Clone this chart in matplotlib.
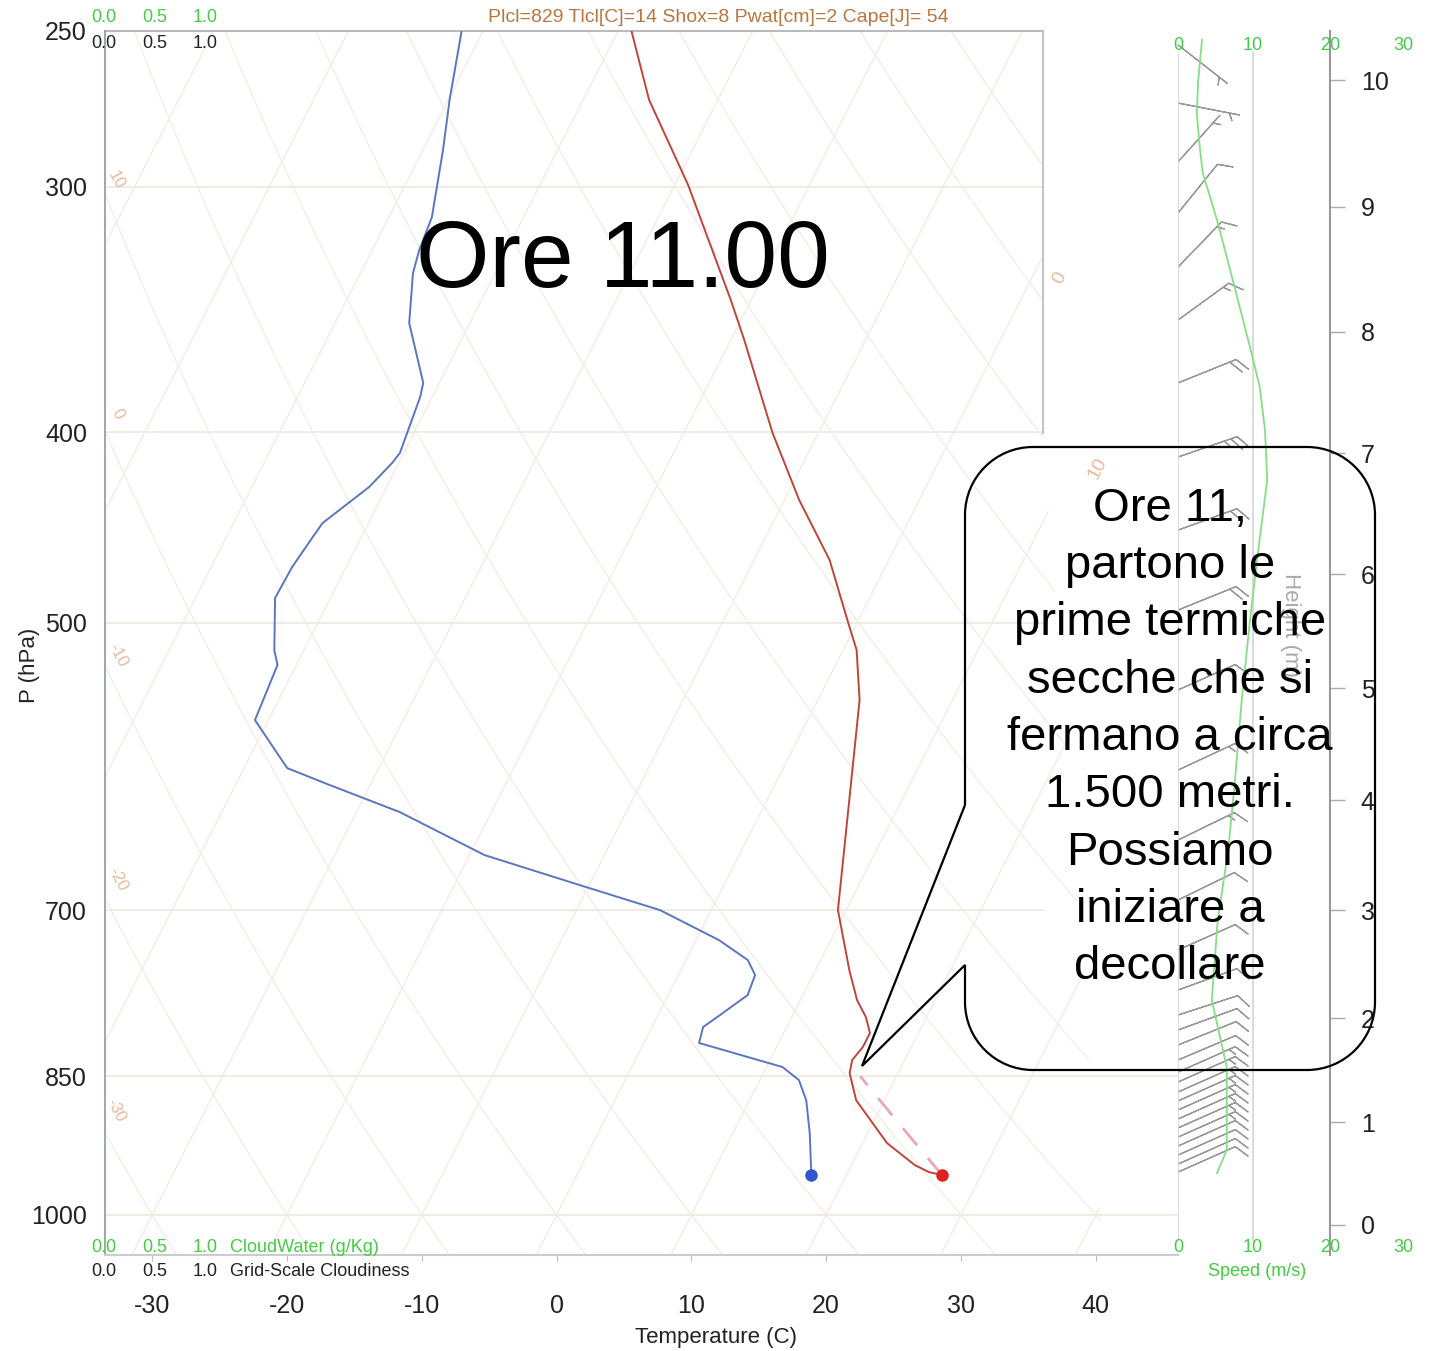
import numpy as np
import matplotlib
matplotlib.use("Agg")
import matplotlib.pyplot as plt
from matplotlib.path import Path
from matplotlib.patches import PathPatch, Polygon

plt.rcParams['font.family'] = ['Liberation Sans', 'DejaVu Sans']

W, H = 1431, 1351
SKEW = 32.14  # degC of skew per ln(1000/p)

# sounding (hPa, degC)
pres_t = [250.0, 271.0, 299.4, 342.6, 359.0, 400.3, 433.0, 464.4, 499.4, 516.1,
          547.2, 580.2, 615.2, 652.3, 699.8, 750.7, 777.5, 793.2, 808.1, 821.5,
          834.1, 846.9, 874.2, 919.2, 943.3, 951.0, 954.4]
temp = [-39.0, -35.1, -29.0, -21.5, -19.0, -13.4, -8.9, -4.4, -0.7, 1.0,
        3.1, 4.6, 6.1, 7.6, 9.4, 12.5, 14.2, 15.5, 16.4, 16.4,
        16.1, 16.4, 17.9, 21.8, 24.7, 26.0, 27.1]

pres_td = [250.0, 271.0, 287.4, 310.9, 323.1, 331.9, 351.9, 377.5, 383.8, 409.7,
           414.6, 426.4, 444.8, 452.1, 468.3, 485.6, 516.1, 525.2, 560.2, 592.6,
           604.5, 623.9, 656.1, 679.6, 699.8, 724.8, 742.0, 755.1, 773.0, 791.3,
           802.5, 817.6, 841.0, 853.9, 874.2, 908.6, 954.4]
dewp = [-51.6, -49.9, -48.5, -46.8, -46.5, -46.1, -44.5, -41.2, -40.9, -40.3,
        -40.5, -41.3, -43.4, -43.6, -44.0, -44.1, -42.2, -41.4, -41.0, -36.8,
        -33.0, -26.8, -18.9, -10.7, -3.8, 1.7, 4.6, 5.7, 5.9, 4.6,
        3.8, 4.1, 11.2, 12.9, 14.2, 15.7, 17.4]

parcel_p = [954.4, 900.0, 850.0]
parcel_t = [27.1, 22.1, 17.3]

# wind speed profile (m/s)
wind_p = [252.6, 264.8, 275.2, 286.4, 295.2, 311.9, 334.6, 362.0, 379.3, 398.9,
          422.9, 459.1, 498.3, 547.3, 601.0, 652.3, 708.0, 777.6, 841.0, 926.9, 952.2]
wind_spd = [3.2, 2.7, 2.5, 2.9, 3.3, 5.2, 7.3, 9.6, 10.9, 11.6,
            11.9, 10.7, 9.6, 8.5, 7.6, 6.7, 5.3, 4.5, 6.5, 6.5, 5.2]

# wind barbs
barb_p = [254.1, 272.0, 291.4, 309.4, 329.6, 350.7, 377.5, 411.7,
          448.5, 492.5, 540.8, 594.0, 644.7, 691.6, 733.3, 768.5,
          791.3, 805.3, 819.6, 834.1, 846.0, 855.9, 866.0, 875.1,
          884.4, 893.8, 903.2, 912.9, 922.5, 932.3, 942.2, 951.1]
barb_spd = [3.2, 2.7, 2.8, 4.8, 6.8, 8.5, 10.5, 11.8,
            11.3, 9.8, 8.8, 7.8, 7.0, 6.0, 5.0, 4.5,
            4.8, 5.5, 6.0, 6.3, 6.5, 6.6, 6.6, 6.6,
            6.6, 6.6, 6.5, 6.5, 6.4, 6.2, 5.8, 5.2]
barb_dir = [128, 101, 42, 39, 44, 54, 68, 71,
            70, 68, 66, 65, 64, 64, 66, 70,
            72, 70, 68, 67, 66, 66, 66, 66,
            66, 66, 66, 66, 66, 66, 66, 66]

height_km = [0, 1, 2, 3, 4, 5, 6, 7, 8, 9, 10]
height_p = [1011.8, 897.0, 794.1, 699.8, 615.2, 539.6, 472.2, 409.8, 355.6, 307.2, 264.8]

p_ticks = [250, 300, 400, 500, 700, 850, 1000]
t_ticks = [-30, -20, -10, 0, 10, 20, 30, 40]
grid_p = [300, 400, 500, 700]
grid_p_long = [850, 1000]

info = "Plcl=829 Tlcl[C]=14 Shox=8 Pwat[cm]=2 Cape[J]= 54"
callout = ("Ore 11,\npartono le\nprime termiche\nsecche che si\nfermano a circa\n"
           "1.500 metri.\nPossiamo\niniziare a\ndecollare")


def skew(t, p):
    return np.asarray(t, float) + SKEW * np.log(1000.0 / np.asarray(p, float))


def fx(px):
    return px / W


def fy(py):
    return 1 - py / H


fig = plt.figure(figsize=(W / 100, H / 100), dpi=100)

# main skew-T axes
ax = fig.add_axes([fx(105), fy(1255), (1178 - 105) / W, (1255 - 31) / H])
ax.set_yscale('log')
ax.set_ylim(1048, 250)
ax.set_xlim(-33.5, 46.1)
ax.set_yticks(p_ticks, labels=[str(p) for p in p_ticks])
ax.set_xticks(t_ticks, labels=[str(t) for t in t_ticks])
ax.minorticks_off()
ax.tick_params(axis='y', length=0, labelsize=18, pad=13, labelcolor='#222222')
ax.tick_params(axis='x', length=4, color='#bbbbbb', labelsize=18, pad=24, labelcolor='#222222')
for s in ['top', 'right']:
    ax.spines[s].set_visible(False)
ax.spines['left'].set_color('#8a9a9a')
ax.spines['bottom'].set_color('#cccccc')
ax.spines['left'].set_linewidth(1.2)
ax.spines['bottom'].set_linewidth(1.5)

box_frac = (1043 - 105) / (1178 - 105)
clip = Polygon([(0, 0), (0, 1), (box_frac, 1), (box_frac, (1255 - 433) / 1224), (0.93, 0)],
               closed=True, transform=ax.transAxes, facecolor='none', edgecolor='none')
ax.add_patch(clip)

p_bg = np.geomspace(1050, 240, 150)
for t0 in range(-120, 60, 10):
    ln, = ax.plot(skew(t0, p_bg), p_bg, color='#f7ece6', lw=1.1, zorder=1)
    ln.set_clip_path(clip)
for th in range(-40, 200, 10):
    tt = (th + 273.15) * (p_bg / 1000.0) ** 0.2857 - 273.15
    ln, = ax.plot(skew(tt, p_bg), p_bg, color='#f4efe8', lw=1.1, zorder=1)
    ln.set_clip_path(clip)

for p in grid_p:
    ax.axhline(p, xmin=0, xmax=box_frac, color='#eeeadf', lw=1.3, zorder=1)
for p in grid_p_long:
    ax.axhline(p, xmin=0, xmax=1, color='#eeeadf', lw=1.3, zorder=1)
ax.axhline(250, xmin=0, xmax=box_frac, color='#bbbbbb', lw=1.5, clip_on=False)
ax.axvline(36.1, ymin=(1255 - 433) / 1224, ymax=1, color='#c4c4c4', lw=1.5)

ax.plot(skew(parcel_t, parcel_p), parcel_p, color='#eaa6b8', lw=2, dashes=(8, 6), zorder=3)
ax.plot(skew(temp, pres_t), pres_t, color='#c0443a', lw=1.4, zorder=4)
ax.plot(skew(dewp, pres_td), pres_td, color='#5a76c0', lw=1.4, zorder=4)
ax.plot(skew(temp[-1:], pres_t[-1:]), pres_t[-1:], 'o', color='#dd2222', ms=8, zorder=5)
ax.plot(skew(dewp[-1:], pres_td[-1:]), pres_td[-1:], 'o', color='#3355cc', ms=8, zorder=5)

# wind panel
axw = fig.add_axes([fx(1178), fy(1255), (1403 - 1178) / W, (1255 - 31) / H])
axw.set_yscale('log')
axw.set_ylim(1048, 250)
axw.set_xlim(0, 30)
axw.set_axis_off()
for s in [0, 10]:
    axw.axvline(s, ymin=0.012, ymax=0.983, color='#d4d4d4', lw=1.2)
axw.plot(wind_spd, wind_p, color='#88dd88', lw=1.3)
d = np.radians(barb_dir)
kt = np.asarray(barb_spd) * 1.944
u = -kt * np.sin(d)
v = -kt * np.cos(d)
axw.barbs(np.zeros(len(barb_p)), barb_p, u, v, length=9.5, color='#999999', linewidth=0.9,
          sizes=dict(spacing=0.11, height=0.22, width=0.25, emptybarb=0.0))

# height axis
axh = fig.add_axes([fx(1330), fy(1255), 0.0001, (1255 - 31) / H])
axh.set_yscale('log')
axh.set_ylim(1048, 250)
axh.set_xticks([])
for s in ['left', 'top', 'bottom']:
    axh.spines[s].set_visible(False)
axh.spines['right'].set_color('#999999')
axh.spines['right'].set_linewidth(1.5)
axh.yaxis.tick_right()
axh.set_yticks(height_p, labels=[str(h) for h in height_km])
axh.minorticks_off()
axh.tick_params(axis='y', length=11, width=1, color='#aaaaaa', labelsize=18, pad=11,
                labelcolor='#222222')

# overlay in pixel coordinates for labels and callout
ov = fig.add_axes([0, 0, 1, 1])
ov.set_xlim(0, W)
ov.set_ylim(H, 0)
ov.axis('off')
ov.patch.set_alpha(0)

green = '#44cc44'
ov.text(718, 17, info, color='#b9773f', fontsize=14, ha='center', va='center')
for x, lab in zip([104, 155, 205], ['0.0', '0.5', '1.0']):
    ov.text(x, 17, lab, color=green, fontsize=13, ha='center', va='center')
    ov.text(x, 44, lab, color='#222222', fontsize=13, ha='center', va='center')
    ov.text(x, 1248, lab, color=green, fontsize=13, ha='center', va='center')
    ov.text(x, 1271, lab, color='#222222', fontsize=13, ha='center', va='center')
ov.text(230, 1248, "CloudWater (g/Kg)", color=green, fontsize=13, ha='left', va='center')
ov.text(230, 1271, "Grid-Scale Cloudiness", color='#222222', fontsize=13, ha='left', va='center')

for x, lab in zip([1178, 1253, 1330, 1403], ['0', '10', '20', '30']):
    ov.text(x, 45, lab, color=green, fontsize=13, ha='center', va='center')
    ov.text(x, 1248, lab, color=green, fontsize=13, ha='center', va='center')
ov.text(1257, 1272, "Speed (m/s)", color=green, fontsize=13, ha='center', va='center')
ov.text(1290, 625, "Height (m)", color='#aaaaaa', fontsize=16, rotation=270,
        ha='center', va='center')
ov.text(30, 665, "P (hPa)", color='#222222', fontsize=16, rotation=90, ha='center', va='center')
ov.text(716, 1337, "Temperature (C)", color='#222222', fontsize=16, ha='center', va='center')

for (x, y), lab in zip([(116, 180), (118, 414), (118, 655), (118, 880), (116, 1110)],
                       ['10', '0', '-10', '-20', '-30']):
    ov.text(x, y, lab, color='#ecb898', fontsize=12, rotation=-62, ha='center', va='center')
for (x, y), lab in zip([(1060, 278), (1098, 468)], ['0', '10']):
    ov.text(x, y, lab, color='#ecb898', fontsize=14, rotation=62, ha='center', va='center')

ov.text(623, 263, "Ore 11.00", color='black', fontsize=68, ha='center', va='center')

# callout balloon
x0, y0, x1, y1, r = 965, 447, 1375, 1070, 68
k = 0.5523 * r
tip = (862, 1066)
verts = [(x0, 805), (x0, y0 + r),
         (x0, y0 + r - k), (x0 + r - k, y0), (x0 + r, y0),
         (x1 - r, y0),
         (x1 - r + k, y0), (x1, y0 + r - k), (x1, y0 + r),
         (x1, y1 - r),
         (x1, y1 - r + k), (x1 - r + k, y1), (x1 - r, y1),
         (x0 + r, y1),
         (x0 + r - k, y1), (x0, y1 - r + k), (x0, y1 - r),
         (x0, 965), tip, (x0, 805)]
codes = [Path.MOVETO, Path.LINETO,
         Path.CURVE4, Path.CURVE4, Path.CURVE4,
         Path.LINETO,
         Path.CURVE4, Path.CURVE4, Path.CURVE4,
         Path.LINETO,
         Path.CURVE4, Path.CURVE4, Path.CURVE4,
         Path.LINETO,
         Path.CURVE4, Path.CURVE4, Path.CURVE4,
         Path.LINETO, Path.LINETO, Path.LINETO]
ov.add_patch(PathPatch(Path(verts, codes), facecolor='none', edgecolor='black', lw=1.6,
                       joinstyle='miter'))
ov.text(1170, 738, callout, color='black', fontsize=34, ha='center', va='center',
        multialignment='center', linespacing=1.39)

fig.savefig("out.png", dpi=100)
